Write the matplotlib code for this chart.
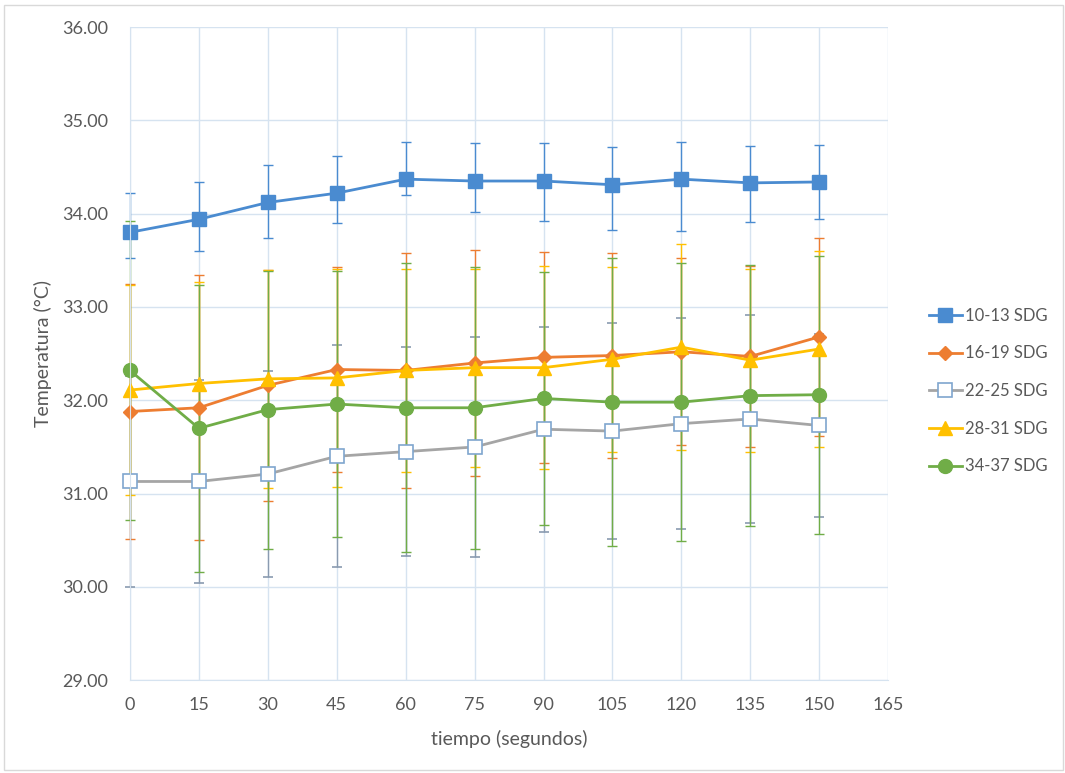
import matplotlib
matplotlib.use('Agg')
import matplotlib.pyplot as plt
from matplotlib.patches import Rectangle
from matplotlib.lines import Line2D

# tiempo (segundos)
tiempo = [0, 15, 30, 45, 60, 75, 90, 105, 120, 135, 150]

# mean temperatures per group
t_10_13 = [33.80, 33.94, 34.12, 34.22, 34.37, 34.35, 34.35, 34.31, 34.37, 34.33, 34.34]
t_16_19 = [31.88, 31.92, 32.16, 32.33, 32.32, 32.40, 32.46, 32.48, 32.52, 32.47, 32.68]
t_22_25 = [31.13, 31.13, 31.21, 31.40, 31.45, 31.50, 31.69, 31.67, 31.75, 31.80, 31.73]
t_28_31 = [32.11, 32.18, 32.23, 32.24, 32.32, 32.35, 32.35, 32.44, 32.57, 32.43, 32.55]
t_34_37 = [32.32, 31.70, 31.90, 31.96, 31.92, 31.92, 32.02, 31.98, 31.98, 32.05, 32.06]

# error bars (10-13 has different + / - values)
err_10_13_up = [0.42, 0.40, 0.40, 0.40, 0.40, 0.41, 0.41, 0.40, 0.40, 0.40, 0.40]
err_10_13_dn = [0.28, 0.34, 0.38, 0.32, 0.17, 0.33, 0.43, 0.49, 0.56, 0.42, 0.40]
err_16_19 = [1.37, 1.42, 1.24, 1.10, 1.26, 1.21, 1.13, 1.10, 1.00, 0.97, 1.06]
err_22_25 = [1.13, 1.09, 1.10, 1.19, 1.12, 1.18, 1.10, 1.16, 1.13, 1.11, 0.98]
err_28_31 = [1.13, 1.09, 1.17, 1.17, 1.09, 1.06, 1.09, 0.99, 1.10, 0.98, 1.05]
err_34_37 = [1.60, 1.54, 1.49, 1.43, 1.55, 1.51, 1.36, 1.54, 1.49, 1.40, 1.49]

labels = ['10-13 SDG', '16-19 SDG', '22-25 SDG', '28-31 SDG', '34-37 SDG']
x_ticks = [0, 15, 30, 45, 60, 75, 90, 105, 120, 135, 150, 165]
y_ticks = [29, 30, 31, 32, 33, 34, 35, 36]

plt.rcParams['font.family'] = ['Lato', 'DejaVu Sans']

fig = plt.figure(figsize=(10.65, 7.73), dpi=100)
ax = fig.add_axes([0.122, 0.120, 0.712, 0.845])

blue = '#4A8BD0'
orange = '#ED7D31'
gray = '#A5A5A5'
yellow = '#FFC000'
green = '#70AD47'

common = dict(linewidth=2.0, elinewidth=1.0, capsize=3.5, capthick=1.0)

styles = [
    dict(color=blue, marker='s', markersize=9.5),
    dict(color=orange, marker='D', markersize=7),
    dict(color=gray, marker='s', markersize=10, markerfacecolor='white',
         markeredgecolor='#7FA6CE', markeredgewidth=1.2),
    dict(color=yellow, marker='^', markersize=10),
    dict(color=green, marker='o', markersize=10),
]
ecolors = [blue, orange, '#8A9BB0', yellow, green]
means = [t_10_13, t_16_19, t_22_25, t_28_31, t_34_37]
errs = [[err_10_13_dn, err_10_13_up], err_16_19, err_22_25, err_28_31, err_34_37]

for m, e, st, ec in zip(means, errs, styles, ecolors):
    cont = ax.errorbar(tiempo, m, yerr=e, ecolor=ec, **st, **common)
    for art in [cont.lines[0]] + list(cont.lines[1]) + list(cont.lines[2]):
        art.set_clip_on(False)

ax.set_xlim(0, 165)
ax.set_ylim(29, 36)
ax.set_xticks(x_ticks)
ax.set_yticks(y_ticks)
ax.set_yticklabels([f'{v:.2f}' for v in y_ticks])
ax.tick_params(length=0, labelsize=13, labelcolor='#595959')
ax.tick_params(axis='y', pad=16)
ax.tick_params(axis='x', pad=12)
ax.grid(True, color='#D6E3F0', linewidth=1.0)
ax.set_axisbelow(True)
for s in ['top', 'right']:
    ax.spines[s].set_visible(False)
ax.spines['left'].set_color('#D6E3F0')
ax.spines['bottom'].set_color('#D6E3F0')

ax.set_xlabel('tiempo (segundos)', fontsize=14, color='#595959', labelpad=12)
ax.set_ylabel('Temperatura (°C)', fontsize=14, color='#595959', labelpad=7)

handles = [Line2D([], [], linewidth=2.0, **st) for st in styles]
leg = fig.legend(handles, labels, loc='center left', bbox_to_anchor=(0.858, 0.494),
                 frameon=False, fontsize=12, labelspacing=1.3,
                 handlelength=2.0, handletextpad=0.2)
for t in leg.get_texts():
    t.set_color('#595959')

# thin frame around the chart area
fig.patches.append(Rectangle((0.004, 0.004), 0.994, 0.990, transform=fig.transFigure,
                             fill=False, edgecolor='#D9D9D9', linewidth=1.0))

fig.savefig('out.png', dpi=100)
